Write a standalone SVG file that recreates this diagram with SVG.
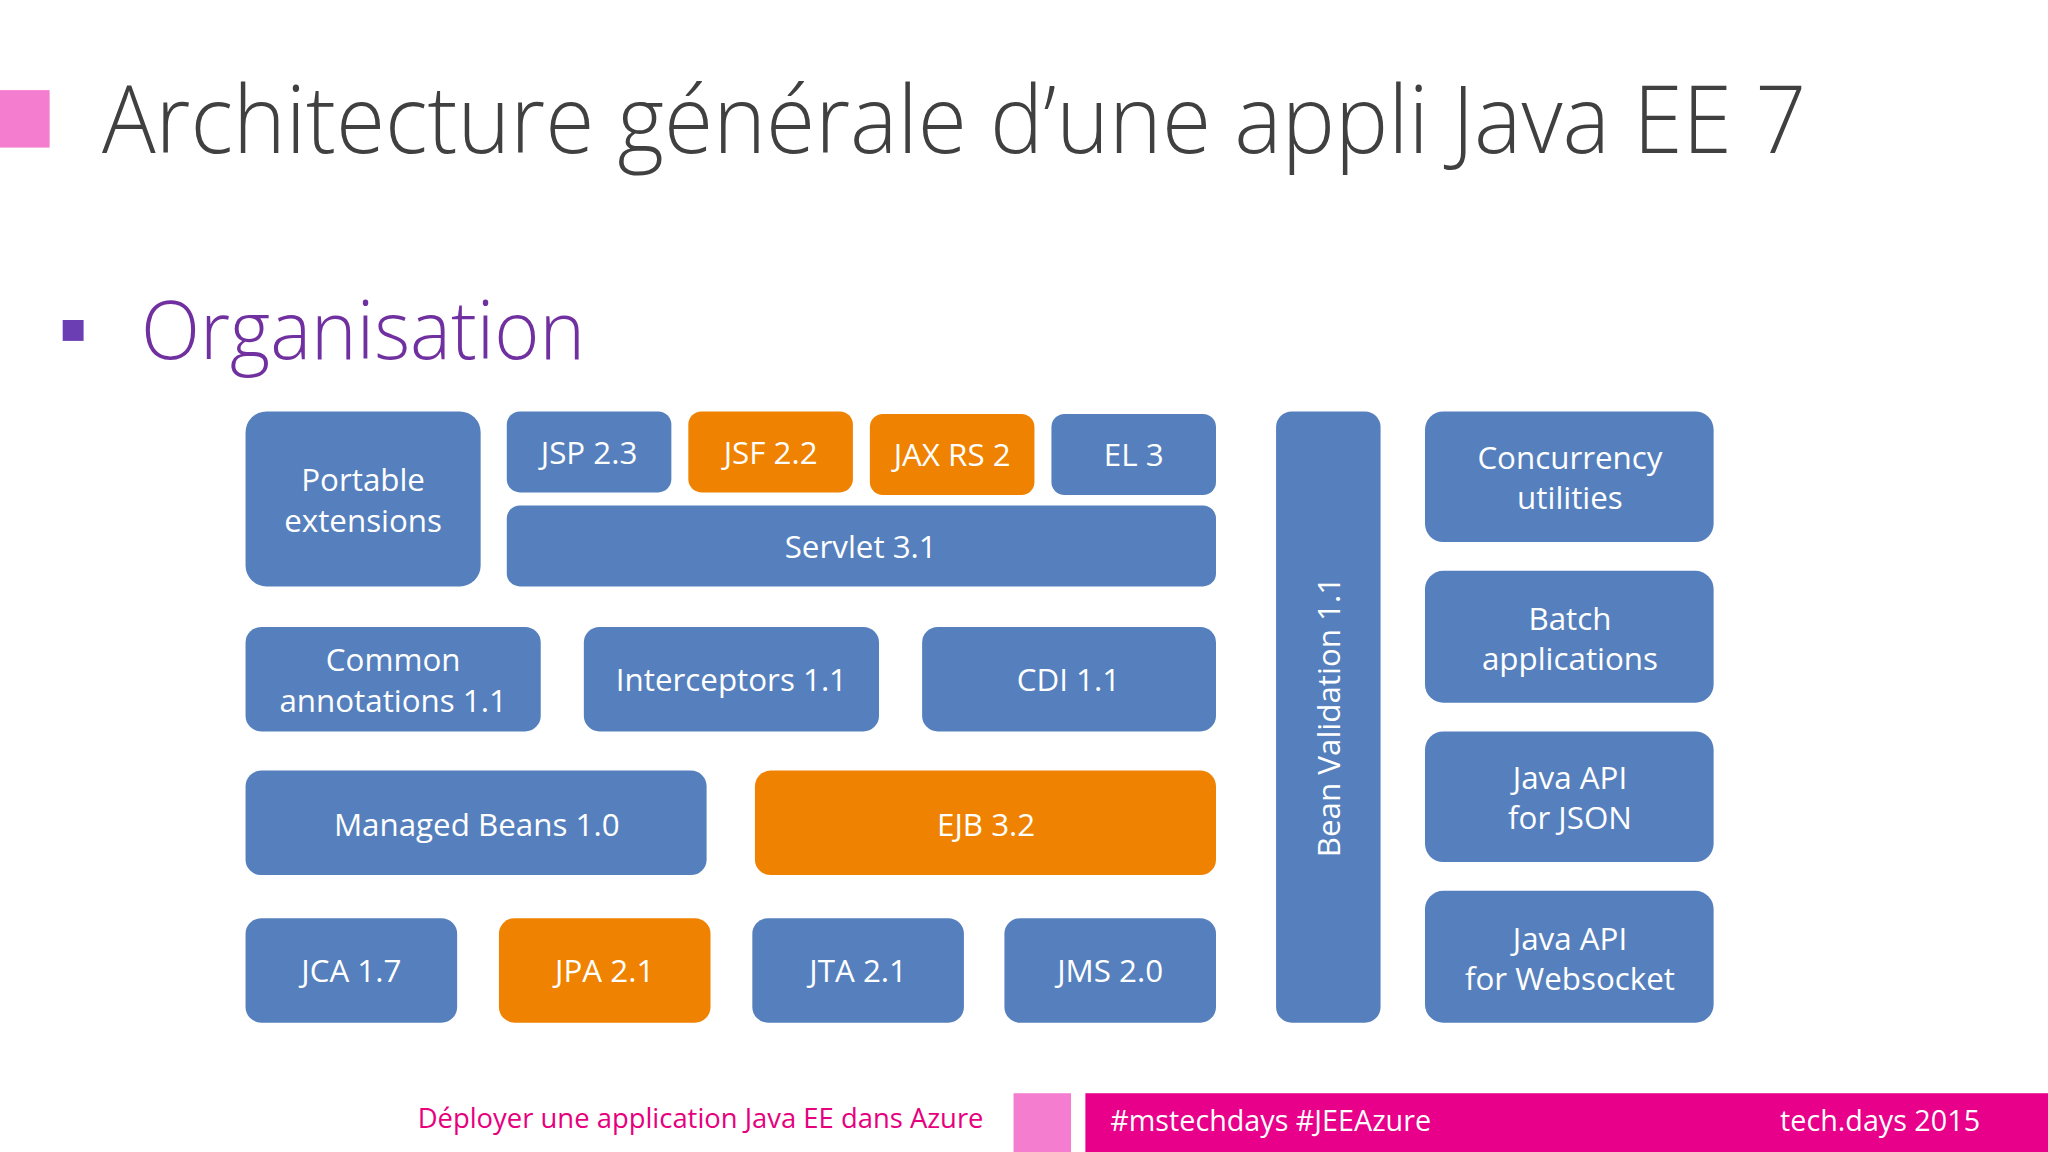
<svg xmlns="http://www.w3.org/2000/svg" width="2048" height="1152" viewBox="0 0 2048 1152">
<style>
.b{fill:#5580bd}.o{fill:#ef8200}
.t{font-family:"Open Sans","Liberation Sans",sans-serif;font-size:24px;fill:#fff;text-anchor:middle}
</style>
<rect width="2048" height="1152" fill="#fff"/>
<g transform="scale(1.30612)">
<g id="header">
<rect x="0" y="69" width="38" height="44" fill="#f47dd0"/>
<text x="78" y="117" font-family="Open Sans,Liberation Sans,sans-serif" font-weight="300" font-size="72" fill="#404040" textLength="1305" lengthAdjust="spacingAndGlyphs">Architecture générale d’une appli Java EE 7</text>
<rect x="48" y="245" width="16" height="16" fill="#6b3fb3"/>
<text x="108" y="275" font-family="Open Sans,Liberation Sans,sans-serif" font-weight="300" font-size="62" fill="#7030a0" textLength="340" lengthAdjust="spacingAndGlyphs">Organisation</text>
</g>
<g id="portable"><rect class="b" x="188" y="315" width="180" height="134" rx="16"/><text class="t" x="278" y="376">Portable</text><text class="t" x="278" y="407">extensions</text></g>
<g id="jsp"><rect class="b" x="388" y="315" width="126" height="62" rx="10"/><text class="t" x="451" y="355">JSP 2.3</text></g>
<g id="jsf"><rect class="o" x="527" y="315" width="126" height="62" rx="10"/><text class="t" x="590" y="355">JSF 2.2</text></g>
<g id="jaxrs"><rect class="o" x="666" y="317" width="126" height="62" rx="10"/><text class="t" x="729" y="357">JAX RS 2</text></g>
<g id="el"><rect class="b" x="805" y="317" width="126" height="62" rx="10"/><text class="t" x="868" y="357">EL 3</text></g>
<g id="servlet"><rect class="b" x="388" y="387" width="543" height="62" rx="10"/><text class="t" x="659" y="427">Servlet 3.1</text></g>
<g id="common"><rect class="b" x="188" y="480" width="226" height="80" rx="12"/><text class="t" x="301" y="514">Common</text><text class="t" x="301" y="545">annotations 1.1</text></g>
<g id="interceptors"><rect class="b" x="447" y="480" width="226" height="80" rx="12"/><text class="t" x="560" y="529">Interceptors 1.1</text></g>
<g id="cdi"><rect class="b" x="706" y="480" width="225" height="80" rx="12"/><text class="t" x="818" y="529">CDI 1.1</text></g>
<g id="managed"><rect class="b" x="188" y="590" width="353" height="80" rx="12"/><text class="t" x="365" y="640">Managed Beans 1.0</text></g>
<g id="ejb"><rect class="o" x="578" y="590" width="353" height="80" rx="12"/><text class="t" x="755" y="640">EJB 3.2</text></g>
<g id="jca"><rect class="b" x="188" y="703" width="162" height="80" rx="12"/><text class="t" x="269" y="752">JCA 1.7</text></g>
<g id="jpa"><rect class="o" x="382" y="703" width="162" height="80" rx="12"/><text class="t" x="463" y="752">JPA 2.1</text></g>
<g id="jta"><rect class="b" x="576" y="703" width="162" height="80" rx="12"/><text class="t" x="657" y="752">JTA 2.1</text></g>
<g id="jms"><rect class="b" x="769" y="703" width="162" height="80" rx="12"/><text class="t" x="850" y="752">JMS 2.0</text></g>
<g id="bean"><rect class="b" x="977" y="315" width="80" height="468" rx="12"/><text class="t" transform="translate(1026,549) rotate(-90)">Bean Validation 1.1</text></g>
<g id="conc"><rect class="b" x="1091" y="315" width="221" height="100" rx="14"/><text class="t" x="1202" y="359">Concurrency</text><text class="t" x="1202" y="390">utilities</text></g>
<g id="batch"><rect class="b" x="1091" y="437" width="221" height="101" rx="14"/><text class="t" x="1202" y="482">Batch</text><text class="t" x="1202" y="513">applications</text></g>
<g id="json"><rect class="b" x="1091" y="560" width="221" height="100" rx="14"/><text class="t" x="1202" y="604">Java API</text><text class="t" x="1202" y="635">for JSON</text></g>
<g id="websocket"><rect class="b" x="1091" y="682" width="221" height="101" rx="14"/><text class="t" x="1202" y="727">Java API</text><text class="t" x="1202" y="758">for Websocket</text></g>
<g id="connectors"/>
<g id="footer">
<text x="753" y="864" font-family="Open Sans,Liberation Sans,sans-serif" font-size="21" fill="#e6007e" text-anchor="end">Déployer une application Java EE dans Azure</text>
<rect x="776" y="837" width="44" height="45" fill="#f47dd0"/>
<rect x="831" y="837" width="737" height="45" fill="#e8008a"/>
<text x="850" y="866" font-family="Open Sans,Liberation Sans,sans-serif" font-size="22" fill="#fff">#mstechdays #JEEAzure</text>
<text x="1516" y="866" font-family="Open Sans,Liberation Sans,sans-serif" font-size="22" fill="#fff" text-anchor="end">tech.days 2015</text>
</g>
</g>
</svg>
